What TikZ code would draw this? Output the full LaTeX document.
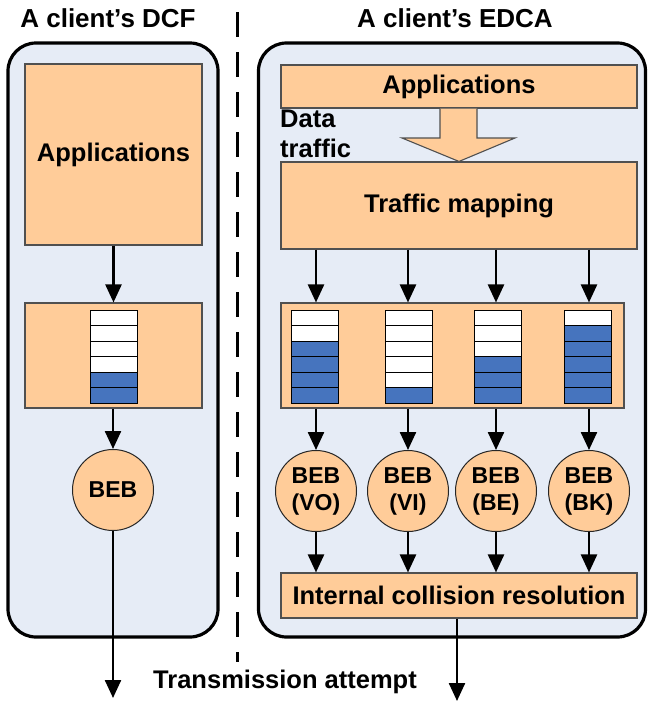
\documentclass[tikz,border=0pt]{standalone}
\usepackage{fontspec}
\setmainfont{Liberation Sans}
\usetikzlibrary{arrows.meta}
\definecolor{panel}{HTML}{E6ECF6}
\definecolor{peach}{HTML}{FFCC99}
\definecolor{qblue}{HTML}{4674BE}
\definecolor{edge}{HTML}{505050}
\begin{document}
\begin{tikzpicture}[x=1pt,y=-1pt,
  font=\bfseries\fontsize{25.5}{30}\selectfont,
  panelbox/.style={draw=black, line width=3.2pt, fill=panel, rounded corners=28pt, inner sep=0pt},
  block/.style={draw=edge, line width=1.1pt, fill=peach, inner sep=0pt, align=center},
  bebnode/.style={circle, draw=black!85, line width=1pt, fill=peach, minimum size=81pt, inner sep=0pt,
                  align=center, font=\bfseries\fontsize{23}{27}\selectfont},
  cellw/.style={draw=black, line width=1pt, fill=white},
  cellb/.style={draw=black, line width=1pt, fill=qblue},
  conn/.style={line width=2.4pt, -{Triangle[width=16pt,length=18pt]}},
  label/.style={inner sep=0pt, anchor=base}
]
\useasboundingbox (0,0) rectangle (648,702);

% separator between the two stations
\draw[line width=3pt, dash pattern=on 25pt off 15pt] (237,12) -- (237,662);

% outer panels
\node[panelbox, minimum width=210pt, minimum height=594pt] (dcf) at (113,340) {};
\node[panelbox, minimum width=387pt, minimum height=594pt] (edca) at (452,340) {};

\node[label, font=\bfseries\fontsize{26}{30}\selectfont] (tdcf) at (108,27) {A client’s DCF};
\node[label, font=\bfseries\fontsize{26}{30}\selectfont] (tedca) at (455,27) {A client’s EDCA};

% ---------- DCF side ----------
\node[block, minimum width=177pt, minimum height=181pt] (lapps) at (113.5,154.5) {Applications};
\node[block, minimum width=177pt, minimum height=105pt] (lqbox) at (113.5,355.5) {};
\foreach \k in {0,...,5}{
  \ifnum\k<4 \def\cst{cellw}\else\def\cst{cellb}\fi
  \draw[\cst] (90,310+15.5*\k) rectangle (137,325.5+15.5*\k);
}
\node[bebnode] (lbeb) at (113,490) {BEB};
\coordinate (lout) at (113,698);
\draw[conn] (lapps) -- (lqbox);
\draw[conn] (lqbox.south -| lbeb) -- (lbeb);
\draw[conn] (lbeb) -- (lout);

% ---------- EDCA side ----------
\node[block, minimum width=356pt, minimum height=43pt] (rapps) at (459,86.5) {Applications};
\node[block, minimum width=356pt, minimum height=87pt] (tmap) at (459,205.5) {Traffic mapping};
\node[block, minimum width=343pt, minimum height=105pt] (rqbox) at (452.5,355.5) {};
\node[block, minimum width=356pt, minimum height=45pt] (icr) at (459,595.5) {Internal collision resolution};

% block arrow carrying the data traffic
\draw[draw=edge, line width=1.1pt, fill=peach]
  (rapps.south -| 440,0) -- (440,138) -- (402,138) -- (tmap.north -| 459,0)
  -- (515,138) -- (477,138) -- (rapps.south -| 477,0);
\node[inner sep=0pt, anchor=north west, align=left] (dtraffic) at (280,110) {Data\\traffic};

% the four access-category queues: centre x, number of empty slots
\foreach \cx/\nw in {314.5/2, 408.5/5, 497.5/3, 587.5/1}{
  \foreach \k in {0,...,5}{
    \ifnum\k<\nw \def\cst{cellw}\else\def\cst{cellb}\fi
    \draw[\cst] (\cx-23.5,310+15.5*\k) rectangle (\cx+23.5,325.5+15.5*\k);
  }
}

\node[bebnode] (bvo) at (316,491) {BEB\\(VO)};
\node[bebnode] (bvi) at (408,491) {BEB\\(VI)};
\node[bebnode] (bbe) at (496,491) {BEB\\(BE)};
\node[bebnode] (bbk) at (589,491) {BEB\\(BK)};

\foreach \b in {bvo,bvi,bbe,bbk}{
  \draw[conn] (tmap.south -| \b) -- (rqbox.north -| \b);
  \draw[conn] (rqbox.south -| \b) -- (\b);
  \draw[conn] (\b) -- (icr.north -| \b);
}

\coordinate (rout) at (457,701);
\draw[conn] (icr.south -| rout) -- (rout);

\node[label] (tx) at (285,688) {Transmission attempt};
\end{tikzpicture}
\end{document}
